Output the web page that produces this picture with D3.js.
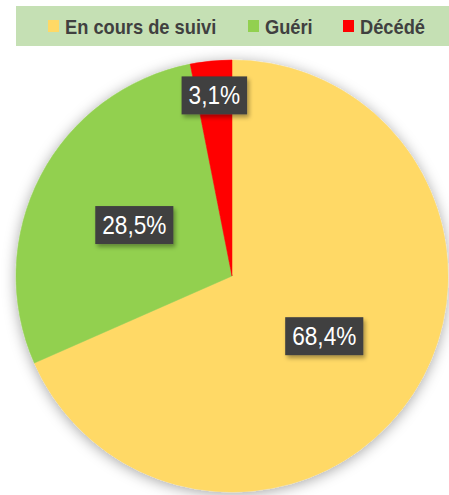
<!DOCTYPE html>
<html><head>
<meta charset="utf-8">
<script src="https://d3js.org/d3.v7.min.js"></script>
<style>
  body { margin: 0; background: #fff; }
  text.legend { font-family: "Liberation Sans", Arial, sans-serif; font-weight: bold; font-size: 21px; fill: #404040; }
  text.pct { font-family: "Liberation Sans", Arial, sans-serif; font-size: 26px; fill: #fff; }
</style>
</head>
<body>
<svg id="chart" width="449" height="495"></svg>
<script>
// data
const categories = ["En cours de suivi", "Guéri", "Décédé"];
const shares = [68.4, 28.5, 3.1];
const colors = ["#ffd966", "#92d050", "#ff0000"];

const svg = d3.select("#chart");
const cx = 232, cy = 276, radius = 216;
const squish = 0.87; // the original picture is narrowed horizontally

const defs = svg.append("defs");
const shadow = defs.append("filter").attr("id", "shadow")
  .attr("x", "-20%").attr("y", "-20%").attr("width", "140%").attr("height", "140%");
shadow.append("feDropShadow").attr("dx", 0).attr("dy", 2)
  .attr("stdDeviation", 7).attr("flood-color", "#000").attr("flood-opacity", 0.35);
const boxShadow = defs.append("filter").attr("id", "boxShadow")
  .attr("x", "-20%").attr("y", "-30%").attr("width", "150%").attr("height", "170%");
boxShadow.append("feDropShadow").attr("dx", 2).attr("dy", 3)
  .attr("stdDeviation", 2).attr("flood-color", "#000").attr("flood-opacity", 0.35);

// legend band
svg.append("rect").attr("x", 16).attr("y", 6).attr("width", 440).attr("height", 40)
  .attr("fill", "#c5e0b4");
const legendX = d3.scaleOrdinal().domain(categories).range([48, 248, 343]);
const legend = svg.selectAll("g.leg").data(categories).join("g")
  .attr("class", "leg")
  .attr("transform", d => `translate(${legendX(d)},20)`);
legend.append("rect").attr("width", 11).attr("height", 12)
  .attr("fill", (d, i) => colors[i]);
legend.append("text").attr("class", "legend")
  .attr("transform", `translate(17,14) scale(${squish},1)`)
  .text(d => d);

// pie
const pie = d3.pie().sort(null).value(d => d);
const arcs = pie(shares);
const arc = d3.arc().innerRadius(0).outerRadius(radius);
const g = svg.append("g").attr("transform", `translate(${cx},${cy})`);
g.append("g").attr("filter", "url(#shadow)")
  .selectAll("path").data(arcs).join("path")
  .attr("d", arc)
  .attr("fill", (d, i) => colors[i])
  .attr("stroke", (d, i) => colors[i])
  .attr("stroke-width", 0.5);

// data labels
const fmt = v => d3.format(".1f")(v).replace(".", ",") + "%";
const labelArc = d => d3.arc().innerRadius(0)
  .outerRadius(d.data < 10 ? radius * 1.68 : radius * 1.02);
const labels = g.selectAll("g.lbl").data(arcs).join("g")
  .attr("class", "lbl")
  .attr("transform", d => `translate(${labelArc(d).centroid(d)})`);
labels.each(function(d) {
  const sel = d3.select(this);
  const txt = sel.append("text").attr("class", "pct")
    .attr("text-anchor", "middle")
    .attr("transform", `translate(0,9) scale(${squish},1)`)
    .text(fmt(d.data));
  const w = txt.node().getBBox().width * squish + 14;
  sel.insert("rect", "text")
    .attr("x", -w / 2).attr("y", -19).attr("width", w).attr("height", 38)
    .attr("fill", "#404040")
    .attr("filter", "url(#boxShadow)");
});
</script>
</body>
</html>
